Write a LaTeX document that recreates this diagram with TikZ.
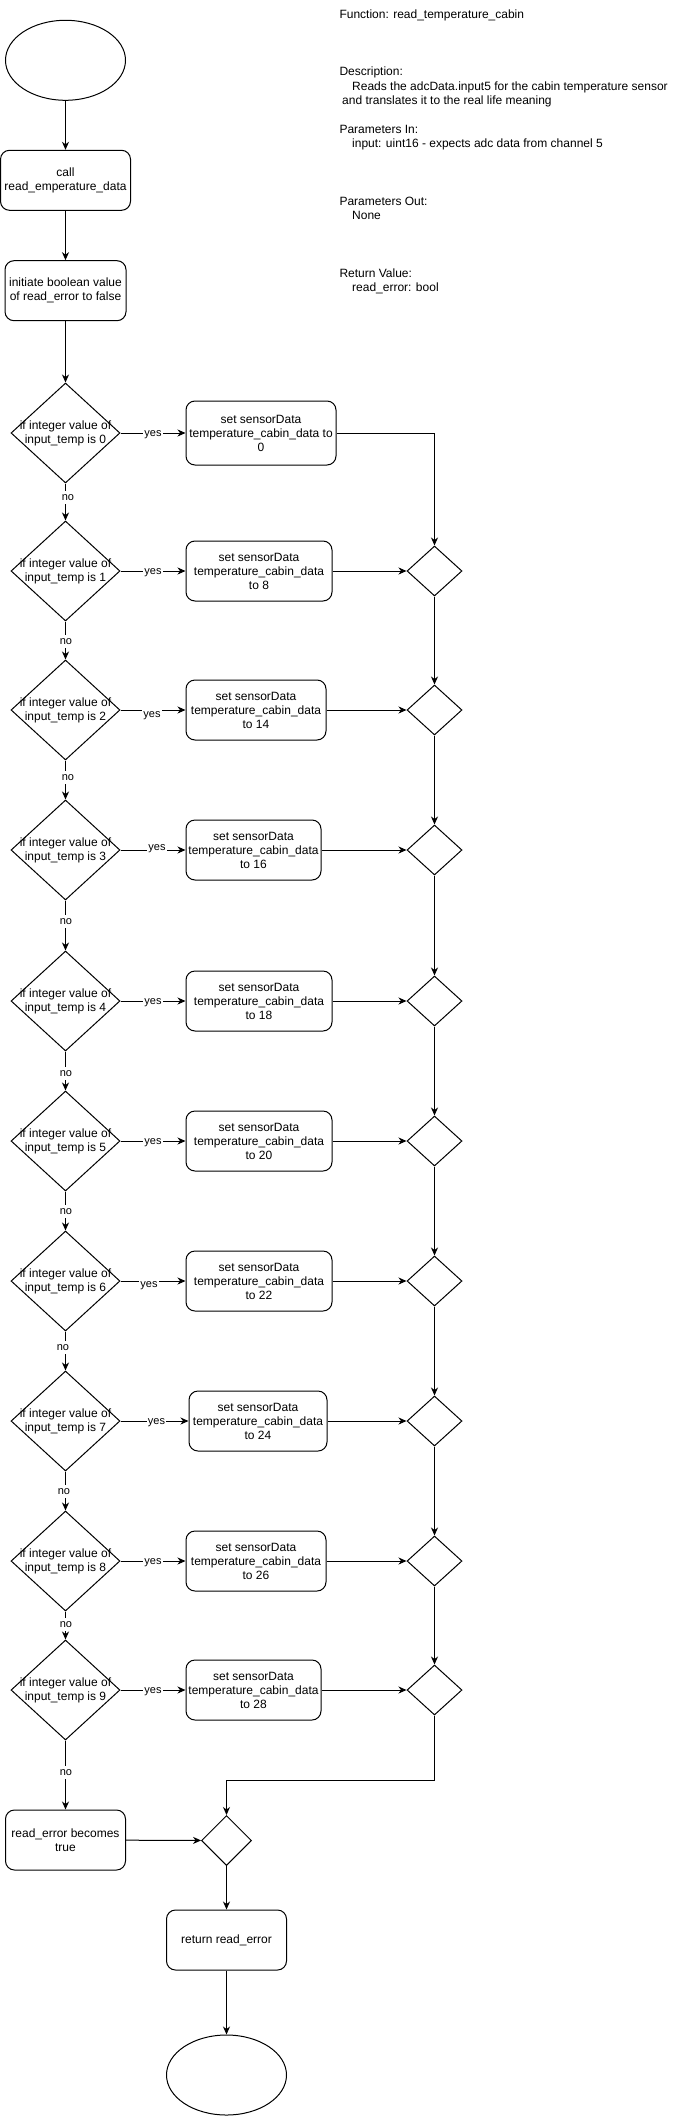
\documentclass[tikz,border=0pt]{standalone}
\usepackage{fontspec}
\setmainfont{Liberation Sans}
\usetikzlibrary{shapes.geometric,arrows.meta}
\begin{document}
\begin{tikzpicture}[x=1pt,y=-1pt,
  font=\fontsize{12}{14}\selectfont,
  line width=1pt,
  proc/.style={draw, rounded corners=9pt, align=center, inner sep=0pt, minimum height=60pt},
  dec/.style={draw, diamond, inner sep=0pt, minimum width=109pt, minimum height=100pt},
  mrg/.style={draw, diamond, inner sep=0pt, minimum width=55pt, minimum height=50pt},
  term/.style={draw, ellipse, inner sep=0pt, minimum width=120pt, minimum height=80pt},
  arr/.style={-{Stealth[length=8pt,width=7pt,inset=2.5pt]}},
  lbl/.style={fill=white, inner sep=1pt, text height=9pt, text depth=2pt, font=\fontsize{11}{13}\selectfont},
  note/.style={anchor=base west, inner sep=0pt}
]
\useasboundingbox (0,0) rectangle (687,2116);

% description text
\node[note] (t1) at (339,18.3) {Function: read\_temperature\_cabin};
\node[note] (t2) at (339,75.9) {Description:};
\node[note] (t3) at (351.7,90.3) {Reads the adcData.input5 for the cabin temperature sensor};
\node[note] (t4) at (341.7,104.7) {and translates it to the real life meaning};
\node[note] (t5) at (339,133.5) {Parameters In:};
\node[note] (t6) at (351.7,147.9) {input: uint16 - expects adc data from channel 5};
\node[note] (t7) at (339,205.5) {Parameters Out:};
\node[note] (t8) at (351.7,219.9) {None};
\node[note] (t9) at (339,277.5) {Return Value:};
\node[note] (t10) at (351.7,291.9) {read\_error: bool};

% top column
\node[term] (start) at (65.5,60.3) {};
\node[proc, minimum width=130pt] (call) at (65.5,180.3) {call\\read\_emperature\_data};
\node[proc, minimum width=121pt] (init) at (65.5,290.7) {initiate boolean value\\of read\_error to false};
\draw[arr] (start) -- (call);
\draw[arr] (call) -- (init);

% row 0
\node[dec, label={[align=center, inner sep=0pt]center:{if integer value of\\input\_temp is 0}}] (d0) at (65.5,433) {};
\node[proc, minimum width=150pt, minimum height=64pt] (b0) at (261,433) {set sensorData\\temperature\_cabin\_data to\\0};
\draw[arr] (init) -- (d0);
\draw[arr] (d0) -- node[lbl]{yes} (b0);

% rows 1..9
\foreach \i/\y/\bx/\bw/\v/\sx/\sy in {
  1/571/259/146/8/0/0,
  2/710/256/140/14/-1/-4,
  3/850/253.5/135/16/4/3,
  4/1001/259/146/18/0/0,
  5/1141/259/146/20/0/0,
  6/1281/259/146/22/-4/-3,
  7/1421/258/138/24/2/0,
  8/1561/256/140/26/0/0,
  9/1690/253.5/135/28/0/0}{
  \node[dec, label={[align=center, inner sep=0pt]center:{if integer value of\\input\_temp is \i}}] (d\i) at (65.5,\y) {};
  \node[proc, minimum width=\bw pt] (b\i) at (\bx,\y) {set sensorData\\temperature\_cabin\_data\\to \v};
  \node[mrg] (m\i) at (434.5,\y) {};
  \draw[arr] (d\i) -- node[lbl, xshift=\sx pt, yshift=\sy pt]{yes} (b\i);
  \draw[arr] (b\i) -- (m\i);
}

% vertical "no" chain
\foreach \i [count=\j from 1] in {0,...,8}{
  \draw[arr] (d\i) -- (d\j);
}
% merge chain
\draw[arr] (b0.east) -| (m1.north);
\foreach \i [count=\j from 2] in {1,...,8}{
  \draw[arr] (m\i) -- (m\j);
}

% bottom
\node[proc, minimum width=120pt] (err) at (65.5,1840) {read\_error becomes\\true};
\node[mrg, minimum width=50pt, minimum height=50pt] (mf) at (226.5,1840.5) {};
\node[proc, minimum width=120pt] (ret) at (226.5,1940) {return read\_error};
\node[term] (end) at (226.5,2075) {};
\draw[arr] (d9) -- (err);
\draw[arr] (m9.south) -- ++(0,65) -| (mf.north);
\draw[arr] (err) -- (mf);
\draw[arr] (mf) -- (ret);
\draw[arr] (ret) -- (end);

% "no" labels
\node[lbl] (n1) at (68,497) {no};
\node[lbl] (n2) at (66,641) {no};
\node[lbl] (n3) at (68,777) {no};
\node[lbl] (n4) at (66,921) {no};
\node[lbl] (n5) at (66,1073) {no};
\node[lbl] (n6) at (66,1211) {no};
\node[lbl] (n7) at (63,1347) {no};
\node[lbl] (n8) at (64,1491) {no};
\node[lbl] (n9) at (66,1624) {no};
\node[lbl] (n10) at (66,1772) {no};
\end{tikzpicture}
\end{document}
